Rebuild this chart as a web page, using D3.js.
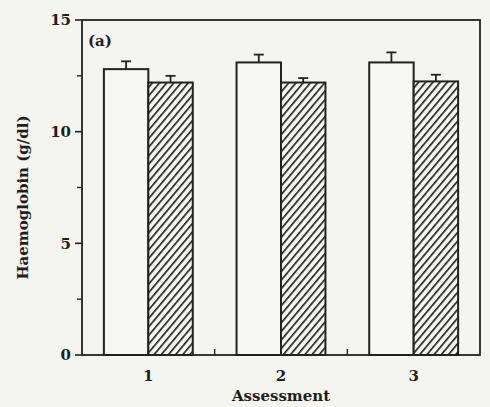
<!DOCTYPE html>
<html>
<head>
<meta charset="UTF-8">
<style>
  body { margin: 0; padding: 0; background: #f4f4f1; }
  text { font-family: "DejaVu Serif", "Liberation Serif", serif; fill: #1e1e1e; }
</style>
<script src="https://d3js.org/d3.v7.min.js"></script>
</head>
<body>
<script>
  const width = 490;
  const height = 407;

  // assessments and the two series (mean, error bar top)
  const assessments = ["1", "2", "3"];
  const series = ["open", "hatched"];
  const openValues = [12.8, 13.1, 13.1];
  const openErrors = [0.35, 0.35, 0.45];
  const hatchedValues = [12.2, 12.2, 12.25];
  const hatchedErrors = [0.3, 0.2, 0.3];
  const yTicks = [0, 5, 10, 15];
  const yMinorTicks = [2.5, 7.5, 12.5];

  const margin = { top: 20, right: 10, bottom: 52, left: 82 };
  const plotW = width - margin.left - margin.right;
  const plotH = height - margin.top - margin.bottom;

  const svg = d3.select("body").append("svg")
    .attr("width", width)
    .attr("height", height);

  const defs = svg.append("defs");
  const pat = defs.append("pattern")
    .attr("id", "hatch")
    .attr("patternUnits", "userSpaceOnUse")
    .attr("width", 5.5)
    .attr("height", 5.5)
    .attr("patternTransform", "rotate(40)");
  pat.append("rect").attr("width", 5.5).attr("height", 5.5).attr("fill", "#f4f4f1");
  pat.append("line")
    .attr("x1", 0.8).attr("y1", 0).attr("x2", 0.8).attr("y2", 5.5)
    .attr("stroke", "#1e1e1e").attr("stroke-width", 1.6);

  const g = svg.append("g").attr("transform", `translate(${margin.left},${margin.top})`);

  const x = d3.scaleBand()
    .domain(assessments)
    .range([0, plotW])
    .paddingInner(0.33)
    .paddingOuter(0.165);

  const xSub = d3.scaleBand()
    .domain(series)
    .range([0, x.bandwidth()]);

  const y = d3.scaleLinear().domain([0, 15]).range([plotH, 0]);

  const rows = assessments.map((a, i) => [
    { a: a, s: "open", v: openValues[i], e: openErrors[i] },
    { a: a, s: "hatched", v: hatchedValues[i], e: hatchedErrors[i] }
  ]).flat();

  // error bars (upper only)
  const capW = 10;
  rows.forEach(d => {
    const cx = x(d.a) + xSub(d.s) + xSub.bandwidth() / 2;
    g.append("line")
      .attr("x1", cx).attr("x2", cx)
      .attr("y1", y(d.v)).attr("y2", y(d.v + d.e))
      .attr("stroke", "#222").attr("stroke-width", 1.8);
    g.append("line")
      .attr("x1", cx - capW / 2).attr("x2", cx + capW / 2)
      .attr("y1", y(d.v + d.e)).attr("y2", y(d.v + d.e))
      .attr("stroke", "#222").attr("stroke-width", 1.8);
  });

  g.selectAll("rect.bar")
    .data(rows)
    .enter().append("rect")
    .attr("class", "bar")
    .attr("x", d => x(d.a) + xSub(d.s))
    .attr("y", d => y(d.v))
    .attr("width", xSub.bandwidth())
    .attr("height", d => y(0) - y(d.v))
    .attr("fill", d => d.s === "open" ? "#f7f7f5" : "url(#hatch)")
    .attr("stroke", "#222")
    .attr("stroke-width", 2);

  // frame
  g.append("rect")
    .attr("x", 0).attr("y", 0)
    .attr("width", plotW).attr("height", plotH)
    .attr("fill", "none")
    .attr("stroke", "#222")
    .attr("stroke-width", 1.8);

  // y ticks (outward)
  const yAxis = g.append("g");
  yTicks.forEach(t => {
    yAxis.append("line")
      .attr("x1", -7).attr("x2", 0)
      .attr("y1", y(t)).attr("y2", y(t))
      .attr("stroke", "#222").attr("stroke-width", 1.6);
    yAxis.append("text")
      .attr("x", -11).attr("y", y(t))
      .attr("dy", "0.35em")
      .attr("text-anchor", "end")
      .attr("font-size", 15)
      .attr("font-weight", "bold")
      .text(t);
  });
  yMinorTicks.forEach(t => {
    yAxis.append("line")
      .attr("x1", -5).attr("x2", 0)
      .attr("y1", y(t)).attr("y2", y(t))
      .attr("stroke", "#222").attr("stroke-width", 1.4);
  });

  // x tick labels and in-between minor ticks
  assessments.forEach((a, i) => {
    g.append("text")
      .attr("x", x(a) + x.bandwidth() / 2)
      .attr("y", plotH + 26)
      .attr("text-anchor", "middle")
      .attr("font-size", 15)
      .attr("font-weight", "bold")
      .text(a);
    if (i > 0) {
      const mx = (x(assessments[i - 1]) + x.bandwidth() + x(a)) / 2;
      g.append("line")
        .attr("x1", mx).attr("x2", mx)
        .attr("y1", plotH).attr("y2", plotH - 6)
        .attr("stroke", "#222").attr("stroke-width", 1.4);
    }
  });

  g.append("text")
    .attr("x", 6).attr("y", 26)
    .attr("font-size", 15)
    .attr("font-weight", "bold")
    .text("(a)");

  svg.append("text")
    .attr("x", margin.left + plotW / 2)
    .attr("y", height - 6)
    .attr("text-anchor", "middle")
    .attr("font-size", 15)
    .attr("font-weight", "bold")
    .text("Assessment");

  svg.append("text")
    .attr("transform", `translate(28,${margin.top + plotH / 2 + 10}) rotate(-90)`)
    .attr("text-anchor", "middle")
    .attr("font-size", 15)
    .attr("font-weight", "bold")
    .text("Haemoglobin (g/dl)");
</script>
</body>
</html>
